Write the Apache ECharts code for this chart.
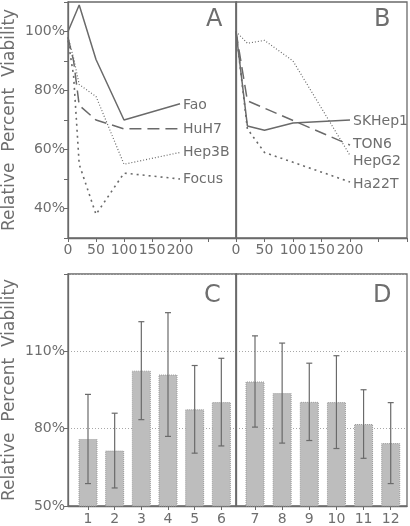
<!DOCTYPE html>
<html><head><meta charset="utf-8">
<script src="https://cdn.jsdelivr.net/npm/echarts@6/dist/echarts.min.js"></script>
<style>html,body{margin:0;padding:0;background:#fff}#c{width:410px;height:526px}</style>
</head><body><div id="c"></div>
<script>
// Panel A: dose (x) vs relative viability (%)
const faoX = [0, 20, 50, 100, 200];
const faoY = [100, 109, 90.5, 70, 75.5];
const huh7X = [0, 10, 20, 50, 100, 200];
const huh7Y = [98, 90, 75, 70, 67, 67];
const hep3bX = [0, 10, 20, 50, 100, 200];
const hep3bY = [98, 91, 82, 78, 55, 59];
const focusX = [0, 10, 20, 50, 100, 200];
const focusY = [97, 85, 55, 38, 52, 50];
// Panel B
const skhepX = [0, 20, 50, 100, 200];
const skhepY = [100, 68, 66.5, 69, 70];
const ton6X = [0, 20, 200];
const ton6Y = [100, 76.5, 61.5];
const hepg2X = [0, 20, 50, 100, 200];
const hepg2Y = [100, 96, 97, 90, 58];
const ha22tX = [0, 20, 50, 200];
const ha22tY = [100, 67, 59, 49];
// Panels C and D: bars with error bars
const catsC = [1, 2, 3, 4, 5, 6];
const meanC = [76, 71.5, 102.5, 101, 87.5, 90.3];
const errC = [17.3, 14.5, 19, 24, 17, 17];
const catsD = [7, 8, 9, 10, 11, 12];
const meanD = [98.3, 93.8, 90.4, 90.3, 81.8, 74.4];
const errD = [17.7, 19.4, 15, 18, 13.3, 15.7];
const topTicks = [0, 50, 100, 150, 200];
const topYLabels = [40, 60, 80, 100];

const zip = (xs, ys) => xs.map((x, i) => [x, ys[i]]);
const txt = '#6e6e6e';
const ln = '#6a6a6a';
const font = 'DejaVu Sans';

function topX(idx) {
  return {
    type: 'value', gridIndex: idx, min: 0, max: 300, interval: 50,
    axisLine: {lineStyle: {color: ln, width: 1.3}},
    axisTick: {show: true, length: 4, lineStyle: {color: ln}},
    axisLabel: {color: txt, fontSize: 14, fontFamily: font, margin: 5,
      formatter: v => topTicks.indexOf(v) >= 0 ? String(v) : ''},
    splitLine: {show: false}
  };
}
function topY(idx, labels) {
  return {
    type: 'value', gridIndex: idx, min: 30, max: 110, interval: 10,
    name: labels ? 'Relative  Percent  Viability' : '', nameLocation: 'middle', nameGap: 50,
    nameTextStyle: {color: txt, fontSize: 17, fontFamily: font},
    axisLine: {show: true, lineStyle: {color: ln, width: 1.3}},
    axisTick: {show: labels, length: 4, lineStyle: {color: ln}},
    axisLabel: {show: labels, color: txt, fontSize: 14, fontFamily: font, margin: 3,
      formatter: v => topYLabels.indexOf(v) >= 0 ? v + '%' : ''},
    splitLine: {show: false}
  };
}
function botX(idx, min, max, cats) {
  return {
    type: 'value', gridIndex: idx, min: min, max: max,
    axisLine: {lineStyle: {color: ln, width: 1.3}},
    axisTick: {show: true, length: 4, customValues: cats, lineStyle: {color: ln}},
    axisLabel: {color: txt, fontSize: 14, fontFamily: font, margin: 6, customValues: cats},
    splitLine: {show: false}
  };
}
function botY(idx, labels) {
  return {
    type: 'value', gridIndex: idx, min: 50, max: 140, interval: 30,
    name: labels ? 'Relative  Percent  Viability' : '', nameLocation: 'middle', nameGap: 50,
    nameTextStyle: {color: txt, fontSize: 17, fontFamily: font},
    axisLine: {show: true, lineStyle: {color: ln, width: 1.3}},
    axisTick: {show: labels, length: 4, lineStyle: {color: ln}},
    axisLabel: {show: labels, color: txt, fontSize: 14, fontFamily: font, margin: 3,
      formatter: v => (v === 140 ? '' : v + '%')},
    splitLine: {show: true, lineStyle: {color: '#a8a8a8', type: [1, 2], width: 1}}
  };
}
function lineS(name, xs, ys, gi, type, width, off) {
  return {
    type: 'line', name: name, xAxisIndex: gi, yAxisIndex: gi, data: zip(xs, ys),
    symbol: 'none', silent: true, animation: false,
    lineStyle: {color: ln, width: width, type: type},
    endLabel: {show: true, formatter: name, color: txt, fontSize: 14, fontFamily: font,
      distance: 3, offset: off}
  };
}
function barS(cats, means, gi) {
  return {
    type: 'bar', xAxisIndex: gi, yAxisIndex: gi, data: zip(cats, means), barWidth: 19,
    animation: false, silent: true, z: 2,
    itemStyle: {color: '#bdbdbd', borderColor: '#9a9a9a', borderWidth: 1, borderType: [1, 1]}
  };
}
function errS(cats, means, errs, gi) {
  return {
    type: 'custom', xAxisIndex: gi, yAxisIndex: gi, animation: false, silent: true, z: 5,
    data: cats.map((c, i) => [c, means[i] - errs[i], means[i] + errs[i]]),
    renderItem: (params, api) => {
      const lo = api.coord([api.value(0), api.value(1)]);
      const hi = api.coord([api.value(0), api.value(2)]);
      const st = {stroke: '#6a6a6a', lineWidth: 1.2};
      return {type: 'group', children: [
        {type: 'line', shape: {x1: lo[0], y1: lo[1], x2: hi[0], y2: hi[1]}, style: st},
        {type: 'line', shape: {x1: lo[0] - 3, y1: lo[1], x2: lo[0] + 3, y2: lo[1]}, style: st},
        {type: 'line', shape: {x1: hi[0] - 3, y1: hi[1], x2: hi[0] + 3, y2: hi[1]}, style: st}
      ]};
    }
  };
}
function letter(t, x, y) {
  return {type: 'text', left: x, top: y, style: {text: t, fill: txt, fontSize: 24, fontFamily: font}};
}

const chart = echarts.init(document.getElementById('c'), null, {renderer: 'canvas'});
const gridStyle = {show: true, borderColor: ln, borderWidth: 1.3, backgroundColor: 'transparent'};
chart.setOption({
  backgroundColor: '#fff',
  animation: false,
  grid: [
    Object.assign({left: 67, top: 2, width: 169, height: 236}, gridStyle),
    Object.assign({left: 236, top: 2, width: 171, height: 236}, gridStyle),
    Object.assign({left: 67, top: 274, width: 169, height: 232}, gridStyle),
    Object.assign({left: 236, top: 274, width: 171, height: 232}, gridStyle)
  ],
  xAxis: [topX(0), topX(1), botX(2, 0.25, 6.55, catsC), botX(3, 6.3, 12.6, catsD)],
  yAxis: [topY(0, true), topY(1, false), botY(2, true), botY(3, false)],
  series: [
    lineS('Fao', faoX, faoY, 0, 'solid', 1.5, [0, 2]),
    lineS('HuH7', huh7X, huh7Y, 0, [12, 6], 1.5, [0, 1]),
    lineS('Hep3B', hep3bX, hep3bY, 0, [1, 2], 1.2, [0, 0]),
    lineS('Focus', focusX, focusY, 0, [2, 4], 1.6, [0, 0]),
    lineS('SKHep1', skhepX, skhepY, 1, 'solid', 1.5, [0, 1]),
    lineS('TON6', ton6X, ton6Y, 1, [12, 6], 1.5, [0, -1]),
    lineS('HepG2', hepg2X, hepg2Y, 1, [1, 2], 1.2, [0, 6]),
    lineS('Ha22T', ha22tX, ha22tY, 1, [2, 4], 1.6, [0, 2]),
    barS(catsC, meanC, 2), barS(catsD, meanD, 3),
    errS(catsC, meanC, errC, 2), errS(catsD, meanD, errD, 3)
  ],
  graphic: [letter('A', 206, 8), letter('B', 374, 8), letter('C', 204, 284), letter('D', 373, 284)]
});
</script></body></html>
